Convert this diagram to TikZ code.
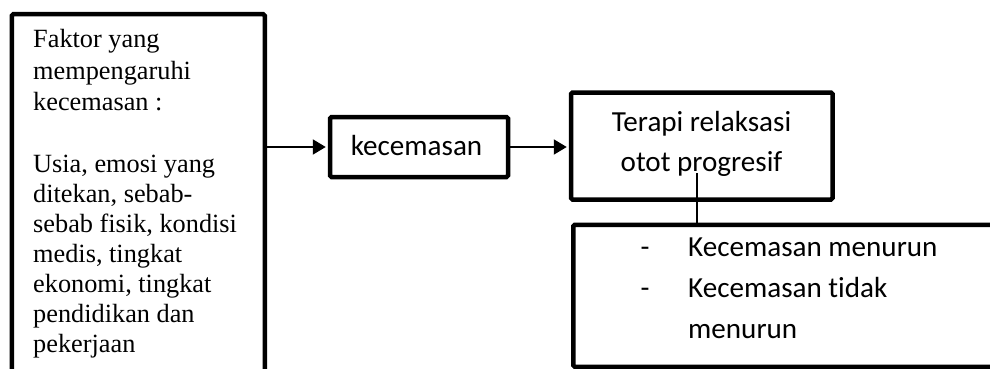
\documentclass[tikz,border=0pt]{standalone}
\usepackage{fontspec}
\setmainfont[Ligatures={NoCommon}]{Liberation Serif}
\newfontfamily\calib[Ligatures={NoCommon}]{Carlito}
\usetikzlibrary{arrows.meta}
\begin{document}
\frenchspacing
\begin{tikzpicture}[x=1pt,y=-1pt,
  box/.style={draw, line width=4.5pt, rounded corners=1.5pt, inner sep=0pt},
  conn/.style={line width=2pt, -{Triangle[length=13pt,width=15pt]}, shorten >=2pt},
  serif/.style={font=\fontsize{26.3}{30}\selectfont, inner sep=0pt, anchor=base west, align=left},
  cal/.style={font=\calib\fontsize{29.1}{40}\selectfont, inner sep=0pt}]
\useasboundingbox (0,0) rectangle (990,369);
\clip (0,0) rectangle (990,369);
\node[box, minimum width=253pt, minimum height=400pt, anchor=north west] (faktor) at (9.5,12) {};
\node[box, minimum width=178pt, minimum height=60pt] (kec) at (419,147) {};
\node[box, minimum width=261.5pt, minimum height=107pt] (terapi) at (701.75,146) {};
\node[box, minimum width=450pt, minimum height=142pt, anchor=north west] (res) at (571,222.5) {};
\node[serif] (ftext) at (33,352.5) {Faktor yang\\[2pt]mempengaruhi\\[1pt]kecemasan :\\[32pt]Usia, emosi yang\\ditekan, sebab-\\sebab fisik, kondisi\\medis, tingkat\\ekonomi, tingkat\\pendidikan dan\\pekerjaan};
\node[cal, anchor=base] (ktext) at (416.5,155) {kecemasan};
\node[cal, anchor=base, align=center] (ttext) at (701.5,171.7) {Terapi relaksasi\\otot progresif};
\node[cal, anchor=base] (d1) at (645,256.7) {-};
\node[cal, anchor=base] (d2) at (645,297.3) {-};
\node[cal, anchor=base west] (r1) at (688,256.7) {Kecemasan menurun};
\node[cal, anchor=base west] (r2) at (688,297.3) {Kecemasan tidak};
\node[cal, anchor=base west] (r3) at (688,338.3) {menurun};
\draw[conn] (faktor.east |- kec.west) -- (kec.west);
\draw[conn] (kec.east) -- (terapi.west |- kec.east);
\coordinate (ct) at (697,173);
\draw[line width=2pt] (ct) -- (ct |- res.north);
\end{tikzpicture}
\end{document}
